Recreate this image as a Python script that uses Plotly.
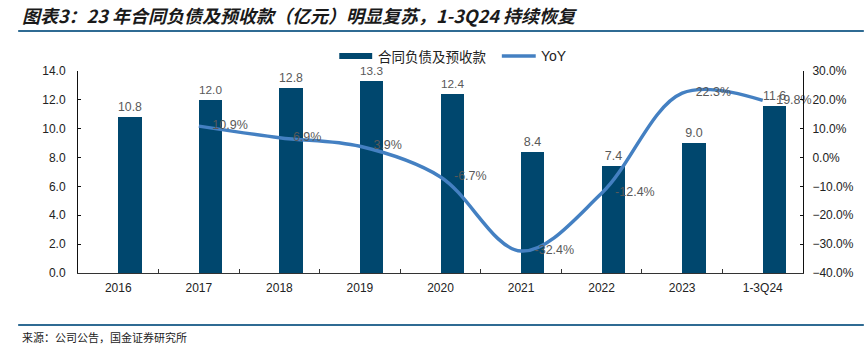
import plotly.graph_objects as go

categories = ["2016", "2017", "2018", "2019", "2020", "2021", "2022", "2023", "1-3Q24"]
liabilities = [10.8, 12.0, 12.8, 13.3, 12.4, 8.4, 7.4, 9.0, 11.6]
yoy_categories = ["2017", "2018", "2019", "2020", "2021", "2022", "2023", "1-3Q24"]
yoy = [10.9, 6.9, 3.9, -6.7, -32.4, -12.4, 22.3, 19.8]

bar_name = "合同负债及预收款"
line_name = "YoY"
title_text = "图表3：23 年合同负债及预收款（亿元）明显复苏，1-3Q24 持续恢复"
source_text = "来源：公司公告，国金证券研究所"

BAR_COLOR = "#00476E"
LINE_COLOR = "#4480C2"
LABEL_COLOR = "#595959"
RULE_COLOR = "#2F6B93"
FONT = "Liberation Sans, Arial, sans-serif"
CJK = "Noto Sans CJK SC"

W, H = 866, 350
L, R, T, B = 78, 805, 71, 273


def px(x):
    return (x - L) / (R - L)


def py(y):
    return (B - y) / (B - T)


fig = go.Figure()
fig.add_trace(go.Bar(
    x=categories, y=liabilities, name=bar_name,
    marker=dict(color=BAR_COLOR, line=dict(width=0)),
    width=0.29, offset=0,
    text=[f"{v:.1f}" for v in liabilities], textposition="outside",
    textfont=dict(family=FONT, size=12.5, color=LABEL_COLOR),
    cliponaxis=False, showlegend=False,
))
fig.add_trace(go.Scatter(
    x=yoy_categories, y=yoy, name=line_name, yaxis="y2",
    mode="lines+markers+text",
    line=dict(color=LINE_COLOR, width=3.5, shape="spline", smoothing=1.0),
    marker=dict(size=20, color="rgba(0,0,0,0)", line=dict(width=0)),
    text=[f"{v:.1f}%" for v in yoy], textposition="middle right",
    textfont=dict(family=FONT, size=12.5, color=LABEL_COLOR),
    cliponaxis=False, showlegend=False, hoverinfo="skip",
))

shapes = [
    dict(type="line", xref="paper", yref="paper", x0=px(18), x1=px(866), y0=py(31), y1=py(31),
         line=dict(color=RULE_COLOR, width=2)),
    dict(type="line", xref="paper", yref="paper", x0=px(18), x1=px(866), y0=py(325), y1=py(325),
         line=dict(color=RULE_COLOR, width=2)),
    dict(type="rect", xref="paper", yref="paper", x0=px(340), x1=px(373), y0=py(59), y1=py(53),
         fillcolor=BAR_COLOR, line=dict(width=0)),
    dict(type="line", xref="paper", yref="paper", x0=px(503), x1=px(537), y0=py(56), y1=py(56),
         line=dict(color=LINE_COLOR, width=3.5)),
]
annotations = [
    dict(text=f"<b><i>{title_text}</i></b>", xref="paper", yref="paper", x=px(20), y=py(15),
         xanchor="left", yanchor="middle", showarrow=False,
         font=dict(family=CJK, size=18, color="#1A1A1A")),
    dict(text=source_text, xref="paper", yref="paper", x=px(20), y=py(337),
         xanchor="left", yanchor="middle", showarrow=False,
         font=dict(family=CJK, size=11, color="#222222")),
    dict(text=bar_name, xref="paper", yref="paper", x=px(377), y=py(56),
         xanchor="left", yanchor="middle", showarrow=False,
         font=dict(family=CJK, size=13.5, color="#222222")),
    dict(text=line_name, xref="paper", yref="paper", x=px(540), y=py(56),
         xanchor="left", yanchor="middle", showarrow=False,
         font=dict(family=FONT, size=14, color="#222222")),
]

fig.update_layout(
    width=W, height=H,
    margin=dict(l=L, r=W - R, t=T, b=H - B, pad=0),
    paper_bgcolor="white", plot_bgcolor="white",
    showlegend=False,
    font=dict(family=FONT, size=12, color="#222222"),
    shapes=shapes, annotations=annotations,
    bargap=0,
    xaxis=dict(
        type="category", range=[-0.5, 8.5], showline=True, linecolor="#333333", linewidth=1,
        ticks="inside", ticklen=4, tickcolor="#333333", tickson="boundaries",
        showgrid=False, zeroline=False, ticklabelstandoff=4,
        tickfont=dict(family=FONT, size=12, color="#222222"),
    ),
    yaxis=dict(
        range=[0, 14], dtick=2, tickformat=".1f", showline=True, linecolor="#111111", linewidth=1,
        ticks="inside", ticklen=3, tickcolor="#111111", showgrid=False, zeroline=False,
        ticklabelstandoff=9,
        tickfont=dict(family=FONT, size=12, color="#222222"),
    ),
    yaxis2=dict(
        overlaying="y", side="right", range=[-40, 30], dtick=10, tickformat=".1f", ticksuffix="%",
        showline=True, linecolor="#111111", linewidth=1, ticks="inside", ticklen=3, tickcolor="#111111",
        showgrid=False, zeroline=False, ticklabelstandoff=6,
        tickfont=dict(family=FONT, size=12, color="#222222"),
    ),
)

fig.write_html("out.html")
